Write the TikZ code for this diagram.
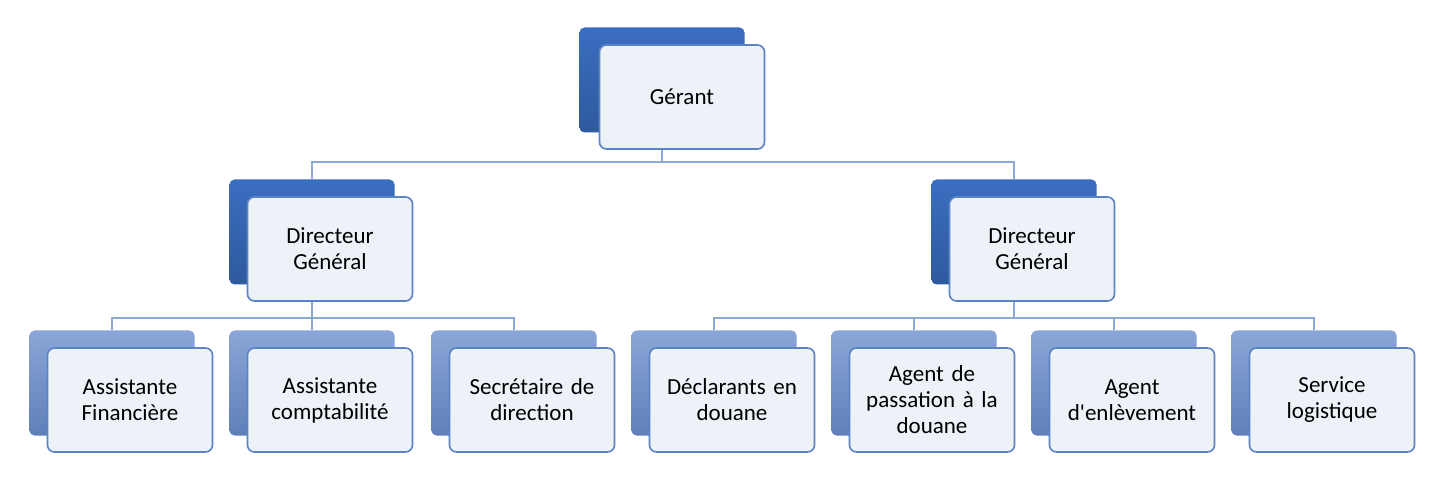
\documentclass[tikz,border=0pt]{standalone}
\usepackage{fontspec}
\setmainfont{Carlito}
\usetikzlibrary{positioning}
\definecolor{darkblue}{HTML}{3A6EC0}
\definecolor{deepblue}{HTML}{2E5A9E}
\definecolor{paleblue}{HTML}{8AA6D8}
\definecolor{greyblue}{HTML}{5E7FB8}
\definecolor{edgeblue}{HTML}{5B84C4}
\definecolor{facefill}{HTML}{EDF1F8}
\definecolor{linkblue}{HTML}{8CA9D6}
\tikzset{
  backbox/.style={rectangle, rounded corners=5pt, minimum width=165pt, minimum height=105pt, top color=darkblue, bottom color=deepblue, draw=none},
  backlow/.style={backbox, top color=paleblue, bottom color=greyblue},
  frontbox/.style={rectangle, rounded corners=7pt, minimum width=165pt, minimum height=104pt, draw=edgeblue, line width=1.6pt, fill=facefill, font=\fontsize{23}{26}\selectfont, align=center, text width=150pt},
  link/.style={draw=linkblue, line width=1.5pt}
}
\begin{document}
\begin{tikzpicture}[x=1pt,y=-1pt]
\useasboundingbox (0,0) rectangle (1452,478);
\fill[white] (0,0) rectangle (1452,478);

\node (bgerant) [backbox] at (662,80) {};
\node (gerant) [frontbox] at (682,97) {Gérant};

\node (bdirl) [backbox] at (312,232) {};
\node (dirl) [frontbox] at (330,249) {Directeur\\Général};
\node (bdirr) [backbox] at (1014,232) {};
\node (dirr) [frontbox] at (1032,249) {Directeur\\Général};

\foreach \x/\name/\txt in {112/afin/{Assistante\\Financière}, 312/acpt/{Assistante\\comptabilité}, 514/secr/{Secrétaire de\\direction}, 714/decl/{Déclarants en\\douane}, 914/pass/{Agent de\\passation à la\\douane}, 1114/enlv/{Agent\\d\textquotesingle enlèvement}, 1314/logi/{Service\\logistique}}{
  \node (b\name) [backlow] at (\x,383) {};
  \node (\name) [frontbox] at (\x+18,400) {\txt};
}

\coordinate (topbus) at (662,162);
\draw [link] (gerant.south -| topbus) -- (topbus);
\draw [link] (bdirl.north) |- (topbus) -| (bdirr.north);

\coordinate (lbus) at (312,318);
\draw [link] (dirl.south -| lbus) -- (lbus);
\draw [link] (bafin.north) |- (lbus) -| (bsecr.north);
\draw [link] (bacpt.north) -- (lbus);

\coordinate (rbus) at (1014,318);
\draw [link] (dirr.south -| rbus) -- (rbus);
\draw [link] (bdecl.north) |- (rbus) -| (blogi.north);
\draw [link] (bpass.north) |- (rbus);
\draw [link] (benlv.north) |- (rbus);
\end{tikzpicture}
\end{document}
